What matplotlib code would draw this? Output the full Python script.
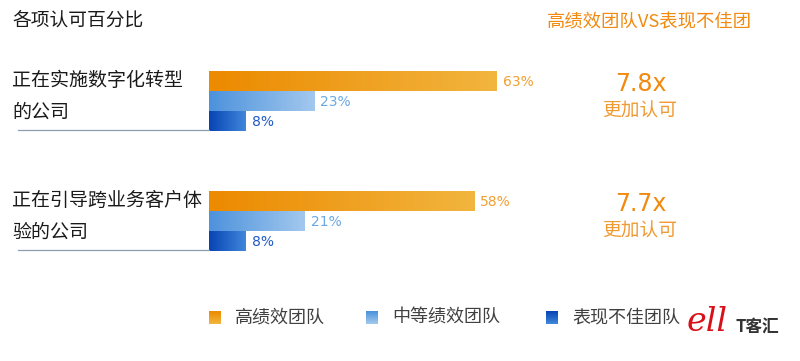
import numpy as np
import matplotlib
matplotlib.use('Agg')
import matplotlib.pyplot as plt
from matplotlib.colors import LinearSegmentedColormap

plt.rcParams['font.family'] = ['Noto Sans CJK SC', 'DejaVu Sans']

# data
categories = [['正在实施数字化转型', '的公司'], ['正在引导跨业务客户体', '验的公司']]
series = ['高绩效团队', '中等绩效团队', '表现不佳团队']
values = [[63, 23, 8], [58, 21, 8]]
ratios = ['7.8x', '7.7x']

# gradient colours (left -> right) and label colours per series
grad = [('#EC8A00', '#F2B53E'), ('#4D92DC', '#A2C8EE'), ('#0845B4', '#3F86DA')]
label_col = ['#F0A033', '#6AA8E4', '#2058C4']
orange = '#F08A10'

fig = plt.figure(figsize=(8, 3.61), dpi=100)
W, H = 800, 361
# axes: x in percent, y in pixel rows (top = 0)
ax = fig.add_axes([209 / W, 0, 457.1 / W, 1])
ax.set_xlim(0, 100)
ax.set_ylim(H, 0)
ax.axis('off')

group_top = [71, 191]
bar_h = 20

for g, vals in enumerate(values):
    for i, v in enumerate(vals):
        y0 = group_top[g] + i * bar_h
        bar = ax.barh(y0 + bar_h / 2, v, height=bar_h - 0.5, color=grad[i][0], lw=0)[0]
        cmap = LinearSegmentedColormap.from_list('g', grad[i])
        im = ax.imshow(np.linspace(0, 1, 100).reshape(1, -1), cmap=cmap, aspect='auto',
                       extent=(0, v, y0 + bar_h, y0), interpolation='bilinear', zorder=2)
        im.set_clip_path(bar)
        ax.text(v + 1.3, y0 + bar_h / 2 + 0.5, f'{v}%', color=label_col[i], fontsize=10,
                va='center', ha='left', family='DejaVu Sans')
    # separator line under label
    ax.plot([-41.8, 0], [group_top[g] + 3 * bar_h - 1.5] * 2, color='#8A9EB0', lw=0.9,
            clip_on=False)

# category labels
for g, lines in enumerate(categories):
    y = group_top[g] + 9
    for k, line in enumerate(lines):
        fig.text(12 / W, 1 - (y + k * 32) / H, line, fontsize=13.7, color='#1a1a1a',
                 va='center', ha='left')
    fig.text(641 / W, 1 - (group_top[g] + 13) / H, ratios[g], fontsize=17, color=orange,
             ha='center', va='center', family='DejaVu Sans')
    fig.text(640 / W, 1 - (group_top[g] + 40) / H, '更加认可', fontsize=13.5, color='#F09A35',
             ha='center', va='center')

fig.text(12 / W, 1 - 20 / H, '各项认可百分比', fontsize=13.5, color='#1a1a1a', va='center')
fig.text(547 / W, 1 - 22 / H, '高绩效团队VS表现不佳团', fontsize=13.2, color=orange, va='center')

# legend
leg_x = [209, 366, 546]
for i, name in enumerate(series):
    sq = fig.add_axes([leg_x[i] / W, 1 - 324 / H, 12 / W, 13 / H])
    sq.imshow(np.linspace(0, 1, 20).reshape(-1, 1)[::-1],
              cmap=LinearSegmentedColormap.from_list('s', [grad[i][1], grad[i][0]]),
              aspect='auto', extent=(0, 1, 0, 1))
    sq.axis('off')
    fig.text((leg_x[i] + 26) / W, 1 - 317 / H, name, fontsize=13, color='#404040', va='center')

# watermark logo
logo = fig.add_axes([682 / W, 1 - 352 / H, 118 / W, 60 / H])
logo.set_xlim(0, 1)
logo.set_ylim(0, 1)
logo.add_patch(plt.Rectangle((0, 0), 1, 1, color='white'))
logo.text(0.04, 0.5, 'ell', fontsize=24, color='#D8101A', style='italic',
          family='DejaVu Serif', va='center')
logo.text(0.45, 0.42, 'T客汇', fontsize=12, color='#333333', va='center', fontweight='bold')
logo.axis('off')

fig.savefig('out.png', dpi=100)
